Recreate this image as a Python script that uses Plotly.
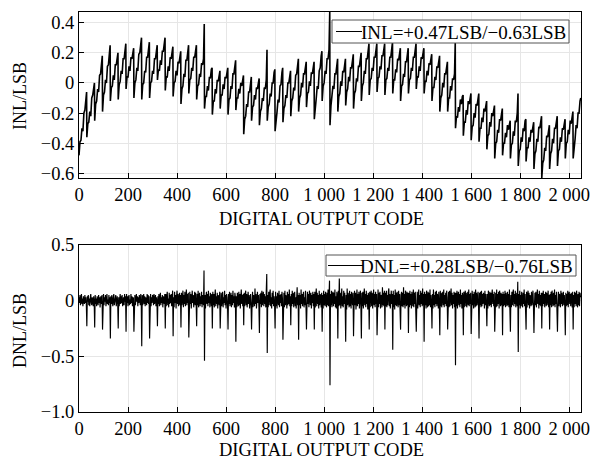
import plotly.graph_objects as go

# ---- INL: one row per 32-code segment, values (in 0.01 LSB) at codes 32k + inl_offsets
inl_offsets = [0, 4, 8, 12, 16, 20, 24, 28, 31]
inl_teeth = [
    [-48, -39, -38, -30, -32, -20, -18, -9, -6], [-36, -27, -26, -19, -22, -10, -8, -1, 0],
    [-25, -14, -12, -4, -6, 5, 6, 15, 18], [-19, -8, -6, 2, 0, 11, 12, 21, 25],
    [-12, -3, -2, 5, 2, 12, 12, 19, 20], [-11, -1, 1, 8, 6, 16, 16, 24, 26],
    [-4, 4, 4, 11, 8, 17, 16, 22, 23], [-10, 0, 2, 10, 8, 19, 20, 24, 30],
    [-11, -1, 0, 8, 7, 17, 17, 25, 27], [-10, 0, 1, 8, 6, 16, 16, 23, 25],
    [2, 9, 8, 15, 12, 21, 21, 28, 30], [-5, 4, 4, 11, 8, 17, 16, 23, 24],
    [-9, 0, 1, 8, 5, 14, 13, 20, 21], [-14, -4, -2, 6, 4, 15, 15, 23, 25],
    [-7, 2, 3, 10, 8, 17, 17, 24, 25], [-11, -2, -1, 6, 4, 13, 12, 16, 39],
    [-17, -9, -9, -2, -5, 4, 3, 9, 10], [-21, -12, -12, -4, -7, 2, 1, 7, 8],
    [-17, -8, -8, -1, -4, 4, 3, 9, 10], [-21, -11, -10, -2, -4, 6, 6, 13, 15],
    [-18, -10, -10, -4, -7, 0, -2, 4, 5], [-34, -24, -22, -14, -16, -6, -6, 2, 4],
    [-25, -16, -15, -8, -11, -3, -4, 2, 3], [-28, -19, -17, -10, -12, -3, -4, 2, 22],
    [-25, -16, -14, -7, -9, 0, 0, 7, 9], [-32, -22, -19, -11, -13, -2, -1, 7, 10],
    [-26, -17, -15, -8, -10, 0, 0, 7, 8], [-22, -12, -10, -3, -5, 5, 6, 14, 16],
    [-19, -10, -8, 0, -3, 6, 6, 13, 14], [-16, -7, -6, 1, -2, 7, 6, 13, 14],
    [-24, -13, -10, -2, -4, 8, 10, 18, 21], [-12, -2, 0, 8, 6, 16, 16, 22, 47],
    [-28, -15, -10, -2, -4, 6, 6, 14, 16], [-19, -9, -7, 1, -2, 8, 7, 15, 16],
    [-15, -6, -4, 4, 1, 10, 10, 17, 19], [-17, -7, -5, 3, 1, 11, 11, 18, 20],
    [-12, -2, 0, 8, 6, 16, 16, 24, 26], [-8, 2, 3, 10, 8, 17, 17, 24, 26],
    [-6, 3, 4, 11, 9, 18, 18, 25, 26], [-8, 2, 3, 10, 8, 17, 17, 25, 27],
    [-7, 2, 2, 9, 7, 16, 15, 22, 23], [-12, -2, -1, 6, 4, 14, 14, 21, 23],
    [-7, 2, 3, 10, 8, 17, 17, 24, 26], [-4, 4, 4, 11, 8, 17, 16, 22, 23],
    [-7, 1, 1, 8, 5, 13, 12, 18, 19], [-12, -3, -3, 4, 2, 11, 10, 17, 18],
    [-19, -10, -8, 0, -3, 6, 6, 13, 14], [-19, -10, -10, -2, -5, 3, 2, 6, 27],
    [-30, -22, -23, -16, -19, -11, -14, -9, -8], [-35, -26, -26, -18, -21, -12, -14, -8, -7],
    [-38, -29, -28, -20, -23, -14, -15, -8, -7], [-39, -30, -30, -23, -26, -17, -19, -13, -12],
    [-44, -35, -34, -26, -29, -20, -22, -16, -15], [-50, -40, -39, -31, -33, -24, -25, -18, -17],
    [-48, -40, -40, -33, -36, -28, -31, -26, -25], [-50, -41, -40, -32, -35, -25, -26, -20, -7],
    [-55, -45, -44, -36, -39, -30, -32, -25, -24], [-52, -43, -43, -36, -39, -31, -33, -27, -26],
    [-57, -47, -45, -37, -39, -29, -30, -23, -22], [-63, -53, -51, -43, -45, -35, -36, -29, -28],
    [-57, -47, -45, -37, -40, -30, -30, -23, -22], [-55, -45, -44, -36, -39, -30, -31, -25, -24],
    [-50, -40, -39, -31, -34, -25, -27, -20, -19], [-50, -40, -37, -28, -30, -20, -20, -12, -10],
]

# ---- DNL: one row per 32-code segment, values (in 0.01 LSB) every 2 codes
dnl_step = 2
dnl_rows = [
    [3, -2, 5, -4, 1, 6, -3, 2, -5, 4, 0, -3, 5, -2, 3, -4],
    [-23, 4, -1, 5, -4, 2, -5, 3, 6, -2, -4, 3, 1, -5, 4, -2],
    [-24, 5, -3, 2, -5, 4, 1, -4, 5, -2, 3, -6, 2, 4, -3, 5],
    [-26, -2, 6, -4, 3, -1, 5, -5, 2, 6, -3, 1, -4, 5, -2, 3],
    [-34, 4, -3, 5, -2, -5, 3, 6, -4, 2, -1, 5, -5, 3, 4, -3],
    [-25, 3, -5, 1, 6, -3, 4, -2, 5, -5, 2, 3, -4, 6, -1, 4],
    [-28, 6, -2, 4, -5, 3, 5, -4, 1, -3, 6, -2, 4, -5, 3, 2],
    [-28, -3, 5, -4, 2, 6, -1, 4, -5, 3, -2, 5, 1, -4, 6, -3],
    [-41, 5, -4, 2, 6, -3, 4, -5, 3, 1, -4, 6, -2, 5, -3, 4],
    [-34, 2, 6, -5, 3, -2, 5, 4, -4, 6, -3, 2, 5, -5, 3, -1],
    [-23, 4, -3, 6, -5, 2, 7, -4, 3, -2, 5, -6, 4, 1, -3, 6],
    [-25, 6, -5, 3, 8, -4, 2, -6, 7, -3, 5, -2, 6, -5, 4, 9],
    [-32, 3, -6, 8, -2, 5, -7, 4, 9, -3, 6, -5, 2, 7, -4, 5],
    [-24, 7, -4, 2, 9, -6, 5, -3, 8, -5, 3, 10, -4, 6, -2, 7],
    [-33, -5, 8, -3, 6, -7, 4, 9, -2, 5, -6, 3, 8, -4, 7, -3],
    [-23, 6, -4, 9, -6, 3, 7, -5, 4, -3, 8, -6, 5, 2, -4, 27],
    [-54, 5, -7, 4, 8, -3, 6, -5, 9, -2, 4, -6, 7, 3, -5, 6],
    [-25, 8, -4, 6, -6, 3, 10, -5, 4, -3, 7, -7, 5, 2, -4, 8],
    [-25, -3, 7, -5, 4, 8, -6, 3, -2, 9, -4, 5, -7, 6, 3, -5],
    [-26, 6, -3, 8, -5, 2, 7, -6, 5, -4, 9, -2, 4, -6, 7, 3],
    [-37, 4, -6, 7, 3, -5, 8, -4, 6, -7, 3, 10, -3, 5, -5, 6],
    [-22, 7, -5, 3, 9, -4, 6, -6, 2, 8, -3, 5, -7, 4, 6, -4],
    [-26, -4, 8, -6, 5, 3, -5, 11, -3, 6, -7, 4, 8, -2, 5, -6],
    [-29, 6, -3, 7, -6, 9, -4, 3, 8, -5, 6, -3, 4, -6, 7, 24],
    [-47, 5, -6, 8, -4, 6, 10, -5, 3, -7, 7, -3, 9, -5, 4, -4],
    [-25, 8, -5, 4, -7, 7, 3, -4, 9, -6, 5, -2, 6, -5, 8, 2],
    [-35, -3, 7, -6, 9, -4, 5, 2, -7, 8, -4, 6, -3, 10, -5, 4],
    [-22, 6, -5, 9, -3, 7, -6, 4, 8, -5, 3, -7, 6, 12, -4, 5],
    [-35, 7, -4, 5, -7, 10, -3, 6, -5, 4, 8, -6, 3, -4, 9, -5],
    [-26, -5, 8, -3, 6, -6, 9, 4, -4, 7, -7, 5, -2, 8, -5, 6],
    [-26, 8, -6, 4, 11, -5, 7, -3, 5, -7, 9, -4, 6, 3, -6, 7],
    [-28, 5, -7, 9, -4, 6, -5, 8, 3, -6, 7, -4, 10, -5, 4, 18],
    [-76, 6, -4, 9, -6, 5, 8, -5, 7, -3, 10, -6, 4, -7, 8, 5],
    [-34, 9, -5, 20, -4, 7, -7, 6, 11, -5, 4, -6, 9, -3, 7, -5],
    [-37, 5, -8, 11, -4, 7, 3, -6, 9, -5, 6, -7, 8, 4, -4, 7],
    [-32, -6, 9, -4, 7, -8, 5, 10, -5, 6, -3, 8, -7, 4, 9, -4],
    [-34, 7, -5, 8, -7, 4, 11, -4, 6, -6, 9, -3, 5, -8, 7, 4],
    [-26, 8, -6, 5, 9, -5, 7, -7, 3, 10, -4, 6, -6, 8, -3, 6],
    [-31, -4, 10, -6, 7, -3, 8, -7, 5, 4, -6, 12, -4, 7, -5, 9],
    [-26, 7, -5, 9, -6, 5, -4, 8, 11, -5, 6, -7, 4, 9, -3, 6],
    [-44, 9, -6, 5, -8, 10, -4, 7, -5, 8, 3, -6, 9, -4, 6, -7],
    [-26, 5, 8, -5, 7, -6, 12, -4, 6, -7, 9, 3, -5, 8, -4, 7],
    [-29, 7, -6, 9, -4, 6, -7, 8, 4, -5, 10, -6, 7, -3, 8, -5],
    [-28, -5, 8, -7, 6, 10, -4, 5, -6, 9, -3, 7, -5, 11, -4, 6],
    [-37, 8, -4, 6, -7, 9, 3, -6, 8, -5, 7, -4, 10, -6, 5, -3],
    [-25, 6, -7, 10, -4, 5, -6, 8, -3, 9, -5, 6, 4, -7, 8, -4],
    [-31, 9, -5, 7, -6, 4, 8, -4, 10, -6, 5, -3, 7, -5, 9, 3],
    [-26, -4, 8, -6, 9, -5, 6, 11, -4, 7, -7, 5, -3, 8, -6, 7],
    [-58, 7, -5, 9, -7, 4, 8, -4, 6, -6, 10, -3, 5, -7, 7, 4],
    [-31, 8, -6, 5, 9, -5, 7, -6, 4, 8, -4, 10, -5, 6, -3, 7],
    [-30, -5, 9, -4, 6, -7, 8, 3, -6, 10, -5, 7, -4, 5, 8, -6],
    [-34, 7, -4, 8, -6, 9, -5, 6, -3, 7, 4, -7, 9, -4, 6, -5],
    [-23, 6, -7, 9, 4, -5, 8, -4, 7, -6, 5, 10, -3, 6, -5, 8],
    [-28, -4, 7, -6, 10, -5, 6, -3, 8, -7, 9, 4, -5, 7, -4, 6],
    [-31, 8, -5, 6, -4, 9, -6, 7, 3, -5, 8, -4, 6, -6, 10, -3],
    [-28, 5, -6, 8, -4, 7, 10, -5, 6, -3, 9, -6, 4, 7, -5, 17],
    [-46, 6, -4, 9, -7, 5, -5, 8, 4, -6, 7, -3, 10, -5, 6, -4],
    [-26, 8, -6, 4, 9, -4, 7, -7, 5, 3, -5, 8, -4, 6, 9, -5],
    [-29, -5, 7, -4, 8, -6, 5, 10, -3, 6, -7, 9, -4, 5, -5, 7],
    [-25, 7, -5, 9, -3, 6, -6, 4, 8, -5, 7, -4, 6, 9, -6, 5],
    [-26, 6, -4, 8, -6, 9, 3, -5, 7, -4, 10, -6, 5, -3, 8, -5],
    [-28, -4, 8, -5, 6, 4, -6, 9, -3, 7, -5, 6, 8, -4, 5, -6],
    [-31, 7, -5, 6, -4, 9, -6, 5, 8, -3, 6, -5, 7, 4, -6, 8],
    [-26, 5, -6, 8, -3, 7, -5, 9, 4, -6, 6, -4, 8, -5, 7, 3],
]

# ---- axis ticks
x_tickvals = list(range(0, 2001, 200))
x_ticktext = ["0", "200", "400", "600", "800", "1 000", "1 200", "1 400", "1 600", "1 800", "2 000"]
inl_tickvals = [-0.6, -0.4, -0.2, 0, 0.2, 0.4]
inl_ticktext = ["\u22120.6", "\u22120.4", "\u22120.2", "0", "0.2", "0.4"]
dnl_tickvals = [-1.0, -0.5, 0, 0.5]
dnl_ticktext = ["\u22121.0", "\u22120.5", "0", "0.5"]

inl_label = "INL=+0.47LSB/\u22120.63LSB"
dnl_label = "DNL=+0.28LSB/\u22120.76LSB"
x_title = "DIGITAL OUTPUT CODE"

inl_x = [32 * k + o for k in range(len(inl_teeth)) for o in inl_offsets]
inl_y = [v / 100 for row in inl_teeth for v in row]
dnl_x = [32 * k + dnl_step * j for k, row in enumerate(dnl_rows) for j in range(len(row))]
dnl_y = [v / 100 for row in dnl_rows for v in row]

W, H = 596, 459
FONT = "'Liberation Serif', 'Times New Roman', Times, 'DejaVu Serif', serif"


def px(x):
    return x / W


def py(y):
    return 1 - y / H


fig = go.Figure()
fig.add_trace(go.Scatter(x=inl_x, y=inl_y, mode="lines", name=inl_label,
                         line=dict(color="black", width=1.6), xaxis="x", yaxis="y"))
fig.add_trace(go.Scatter(x=dnl_x, y=dnl_y, mode="lines", name=dnl_label,
                         line=dict(color="black", width=1.15), xaxis="x2", yaxis="y2"))

x_dom = [px(79), px(581)]
axis_common = dict(showline=True, linecolor="black", linewidth=1, mirror=True,
                   ticks="inside", ticklen=5, tickcolor="black", tickwidth=1,
                   showgrid=True, gridcolor="#e6e6e6", gridwidth=1, zeroline=False,
                   automargin=False,
                   tickfont=dict(family=FONT, size=18.5, color="black"))

fig.update_layout(
    width=W, height=H, margin=dict(l=0, r=0, t=0, b=0),
    paper_bgcolor="white", plot_bgcolor="white",
    font=dict(family=FONT, size=18, color="black"),
    showlegend=False,
    xaxis=dict(domain=x_dom, range=[0, 2048], anchor="y", tickvals=x_tickvals,
               ticktext=x_ticktext, **axis_common),
    yaxis=dict(domain=[py(178), py(12)], range=[-0.63, 0.47], anchor="x",
               tickvals=inl_tickvals, ticktext=inl_ticktext, **axis_common),
    xaxis2=dict(domain=x_dom, range=[0, 2048], anchor="y2", tickvals=x_tickvals,
                ticktext=x_ticktext, **axis_common),
    yaxis2=dict(domain=[py(412), py(245)], range=[-1.0, 0.5], anchor="x2",
                tickvals=dnl_tickvals, ticktext=dnl_ticktext, **axis_common),
)

# axis titles
for text, x, y, ang, size in [(x_title, 321, 219.5, 0, 18.5), (x_title, 321, 450, 0, 18.5),
                              ("INL/LSB", 20, 96, -90, 18), ("DNL/LSB", 20, 331, -90, 18)]:
    fig.add_annotation(text=text, x=px(x), y=py(y), xref="paper", yref="paper",
                       xanchor="center", yanchor="middle", showarrow=False,
                       textangle=ang, font=dict(family=FONT, size=size, color="black"))

# legends: framed box, line sample, label
leg_font = dict(family=FONT, size=19, color="black")
for label, (x0, x1, y0, y1), (lx0, lx1) in [
        (inl_label, (332, 569, 20, 43), (336, 362)),
        (dnl_label, (326, 576, 255, 276), (328, 363))]:
    fig.add_shape(type="rect", xref="paper", yref="paper",
                  x0=px(x0), x1=px(x1), y0=py(y1), y1=py(y0),
                  line=dict(color="#555555", width=1), fillcolor="white", layer="above")
    ym = (y0 + y1) / 2
    fig.add_shape(type="line", xref="paper", yref="paper",
                  x0=px(lx0), x1=px(lx1), y0=py(ym), y1=py(ym),
                  line=dict(color="black", width=1), layer="above")
    fig.add_annotation(text=label, x=px(x1 - 1), y=py(ym + 0.5), xref="paper", yref="paper",
                       xanchor="right", yanchor="middle", showarrow=False, font=leg_font)

fig.write_html("out.html")
